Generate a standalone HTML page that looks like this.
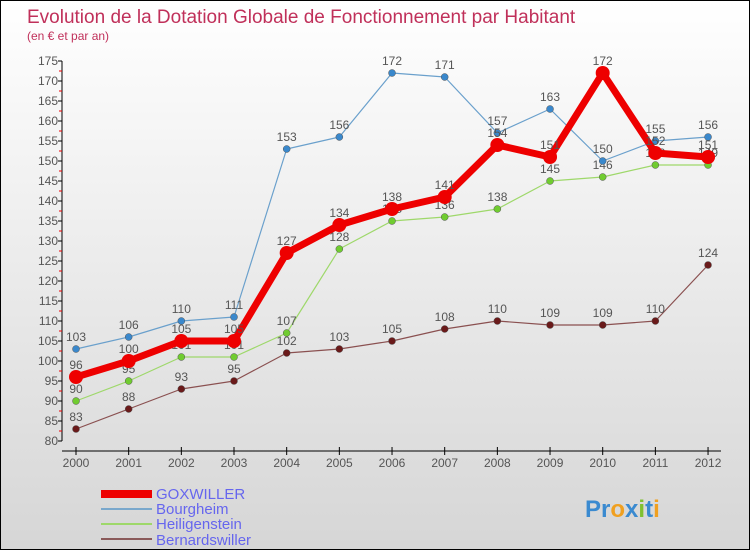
<!DOCTYPE html>
<html><head><meta charset="utf-8"><style>
body{margin:0}
#c{width:750px;height:550px;position:relative;box-sizing:border-box;border:1px solid #000;background:linear-gradient(#fff,#d6d6d6);font-family:"Liberation Sans",sans-serif;overflow:hidden}
</style></head><body>
<div id="c">
<svg width="750" height="550" id="s">
<text x="26" y="22" font-size="19" fill="#c0305a">Evolution de la Dotation Globale de Fonctionnement par Habitant</text>
<text x="26" y="39" font-size="12" fill="#c0305a">(en € et par an)</text>
<g id="ax"></g><g id="marks"></g>
<g>
<rect x="100" y="489" width="51" height="8" fill="#e00"/>
<text x="155" y="498" font-size="15" fill="#6666ee">GOXWILLER</text>
<line x1="100" x2="151" y1="508" y2="508" stroke="#7aa8cc" stroke-width="2"/>
<text x="155" y="513" font-size="15" fill="#6666ee">Bourgheim</text>
<line x1="100" x2="151" y1="523" y2="523" stroke="#9ed86a" stroke-width="2"/>
<text x="155" y="528" font-size="15" fill="#6666ee">Heiligenstein</text>
<line x1="100" x2="151" y1="538" y2="538" stroke="#8a5a5a" stroke-width="2"/>
<text x="155" y="544" font-size="15" fill="#6666ee">Bernardswiller</text>
</g>
<text x="584" y="516" font-size="24" font-weight="bold"><tspan fill="#3a8ad0">Pr</tspan><tspan fill="#f0a020">o</tspan><tspan fill="#3a8ad0">x</tspan><tspan fill="#80c030">i</tspan><tspan fill="#3a8ad0">t</tspan><tspan fill="#f0a020">i</tspan></text>
</svg></div>
<script>
const years=[2000,2001,2002,2003,2004,2005,2006,2007,2008,2009,2010,2011,2012];
const goxwiller=[96,100,105,105,127,134,138,141,154,151,172,152,151];
const bourgheim=[103,106,110,111,153,156,172,171,157,163,150,155,156];
const heiligenstein=[90,95,101,101,107,128,135,136,138,145,146,149,149];
const bernardswiller=[83,88,93,95,102,103,105,108,110,109,109,110,124];
const yTicks=[80,85,90,95,100,105,110,115,120,125,130,135,140,145,150,155,160,165,170,175];
const NS="http://www.w3.org/2000/svg";
function X(i){return 75+i*52.67}
function Y(v){return 440-(v-80)*4}
function mk(t,a,p){const e=document.createElementNS(NS,t);for(const k in a)e.setAttribute(k,a[k]);p.appendChild(e);return e}
const ax=document.getElementById('ax'),mg=document.getElementById('marks');
let l=mk('line',{x1:61,x2:61,y1:Y(175),y2:Y(80),stroke:'#000'},ax);

l=mk('line',{x1:61,x2:720,y1:450,y2:450,stroke:'#000'},ax);

yTicks.forEach(v=>{mk('line',{x1:57,x2:61,y1:Y(v),y2:Y(v),stroke:'#000'},ax);
 if(v<175)mk('line',{x1:58,x2:61,y1:Y(v+2.5),y2:Y(v+2.5),stroke:'#e00'},ax);
 const t=mk('text',{x:57,y:Y(v)+4,'text-anchor':'end','font-size':12,fill:'#555'},ax);t.textContent=v;
 });
years.forEach((y,i)=>{mk('line',{x1:X(i),x2:X(i),y1:446,y2:454,stroke:'#000'},ax);
 const t=mk('text',{x:X(i),y:466,'text-anchor':'middle','font-size':12,fill:'#555'},ax);t.textContent=y;
 });
function series(d,name,col,w,r,dot){
 const p=mk('polyline',{points:d.map((v,i)=>X(i)+','+Y(v)).join(' '),fill:'none',stroke:col,'stroke-width':w,'stroke-linejoin':'round'},mg);
 
 d.forEach((v,i)=>{const c=mk('circle',{cx:X(i),cy:Y(v),r:r,fill:dot,stroke:col==='#e00'?'none':'#555','stroke-width':0.5},mg);
  
  const t=mk('text',{x:X(i),y:Y(v)-8,'text-anchor':'middle','font-size':12,fill:'#555'},mg);t.textContent=v;
  });
}
series(bernardswiller,'bernardswiller','#8a5050',1.2,3.5,'#6a1a1a');
series(heiligenstein,'heiligenstein','#9ed86a',1.2,3.5,'#70cc30');
series(bourgheim,'bourgheim','#6aa0cc',1.2,3.5,'#3a88cc');
series(goxwiller,'goxwiller','#e00',7,7,'#e00');
</script></body></html>
